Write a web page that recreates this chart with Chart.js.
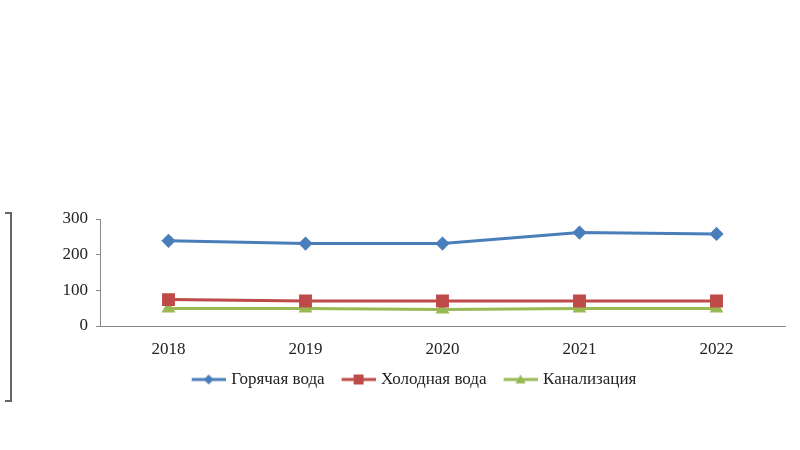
<!DOCTYPE html>
<html>
<head>
<meta charset="utf-8">
<script src="https://cdn.jsdelivr.net/npm/chart.js@4.4.0/dist/chart.umd.min.js"></script>
<style>
  html, body { margin: 0; padding: 0; background: #fff; }
  #wrap { position: relative; width: 800px; height: 450px; }
  #bracket {
    position: absolute; left: 5px; top: 212px; width: 5px; height: 186px;
    border-top: 2px solid #666; border-bottom: 2px solid #666; border-right: 2px solid #666;
  }
</style>
</head>
<body>
<div id="wrap">
  <div id="bracket"></div>
  <canvas id="chart" width="800" height="450"></canvas>
</div>
<script>
// данные
const years = ['2018', '2019', '2020', '2021', '2022'];
const hotWater = [239, 231, 231, 262, 258];
const coldWater = [74, 70, 70, 70, 70];
const sewerage = [49, 49, 46, 49, 49];
const yTicks = [0, 100, 200, 300];

const BLUE = '#4a7ebb';
const RED = '#be4b48';
const GREEN = '#98b954';

// значок легенды: линия с маркером, как в Excel (слева прозрачный отступ)
function legendIcon(color, shape) {
  const c = document.createElement('canvas');
  c.width = 44; c.height = 14;
  const g = c.getContext('2d');
  g.strokeStyle = color; g.fillStyle = color; g.lineWidth = 3;
  g.beginPath(); g.moveTo(10, 7); g.lineTo(44, 7); g.stroke();
  g.beginPath();
  if (shape === 'diamond') {
    g.moveTo(27, 2); g.lineTo(32, 7); g.lineTo(27, 12); g.lineTo(22, 7);
  } else if (shape === 'square') {
    g.rect(22, 2, 10, 10);
  } else {
    g.moveTo(27, 2); g.lineTo(32, 11); g.lineTo(22, 11);
  }
  g.closePath(); g.fill();
  return c;
}
const icons = [legendIcon(BLUE, 'diamond'), legendIcon(RED, 'square'), legendIcon(GREEN, 'triangle')];

// легенда в оригинале немного смещена вправо
const shiftLegend = {
  id: 'shiftLegend',
  afterLayout(chart) {
    const lg = chart.legend;
    if (lg) { lg.left += 18; lg.right += 18; }
  }
};

const font = { family: '"Liberation Serif", "Times New Roman", serif', size: 17 };

new Chart(document.getElementById('chart'), {
  type: 'line',
  data: {
    labels: years,
    datasets: [
      { label: 'Горячая вода', data: hotWater, borderColor: BLUE, backgroundColor: BLUE,
        borderWidth: 3, pointStyle: 'rectRot', pointRadius: 5, tension: 0 },
      { label: 'Холодная вода', data: coldWater, borderColor: RED, backgroundColor: RED,
        borderWidth: 3, pointStyle: 'rect', pointRadius: 7, tension: 0 },
      { label: 'Канализация', data: sewerage, borderColor: GREEN, backgroundColor: GREEN,
        borderWidth: 3, pointStyle: 'triangle', pointRadius: 5, tension: 0 }
    ]
  },
  plugins: [shiftLegend],
  options: {
    responsive: false,
    animation: false,
    layout: { padding: { left: 0, top: 219, right: 15, bottom: 52 } },
    plugins: {
      tooltip: { enabled: false },
      legend: {
        position: 'bottom',
        labels: {
          font: font,
          color: '#222',
          usePointStyle: true,
          pointStyleWidth: 38,
          padding: 10,
          generateLabels(chart) {
            const items = Chart.defaults.plugins.legend.labels.generateLabels(chart);
            items.forEach((it, i) => { it.pointStyle = icons[i]; });
            return items;
          }
        }
      }
    },
    scales: {
      x: {
        offset: true,
        grid: { display: false },
        border: { color: '#888', width: 1 },
        ticks: { font: font, color: '#222', padding: 5 },
        afterFit(scale) { scale.height = 35; }
      },
      y: {
        min: 0, max: 300,
        afterBuildTicks(scale) { scale.ticks = yTicks.map(v => ({ value: v })); },
        grid: { drawOnChartArea: false, drawTicks: true, tickLength: 4, color: '#888' },
        border: { color: '#888', width: 1 },
        ticks: { font: font, color: '#222', padding: 8 },
        afterFit(scale) { scale.width = 100; }
      }
    }
  }
});
</script>
</body>
</html>
